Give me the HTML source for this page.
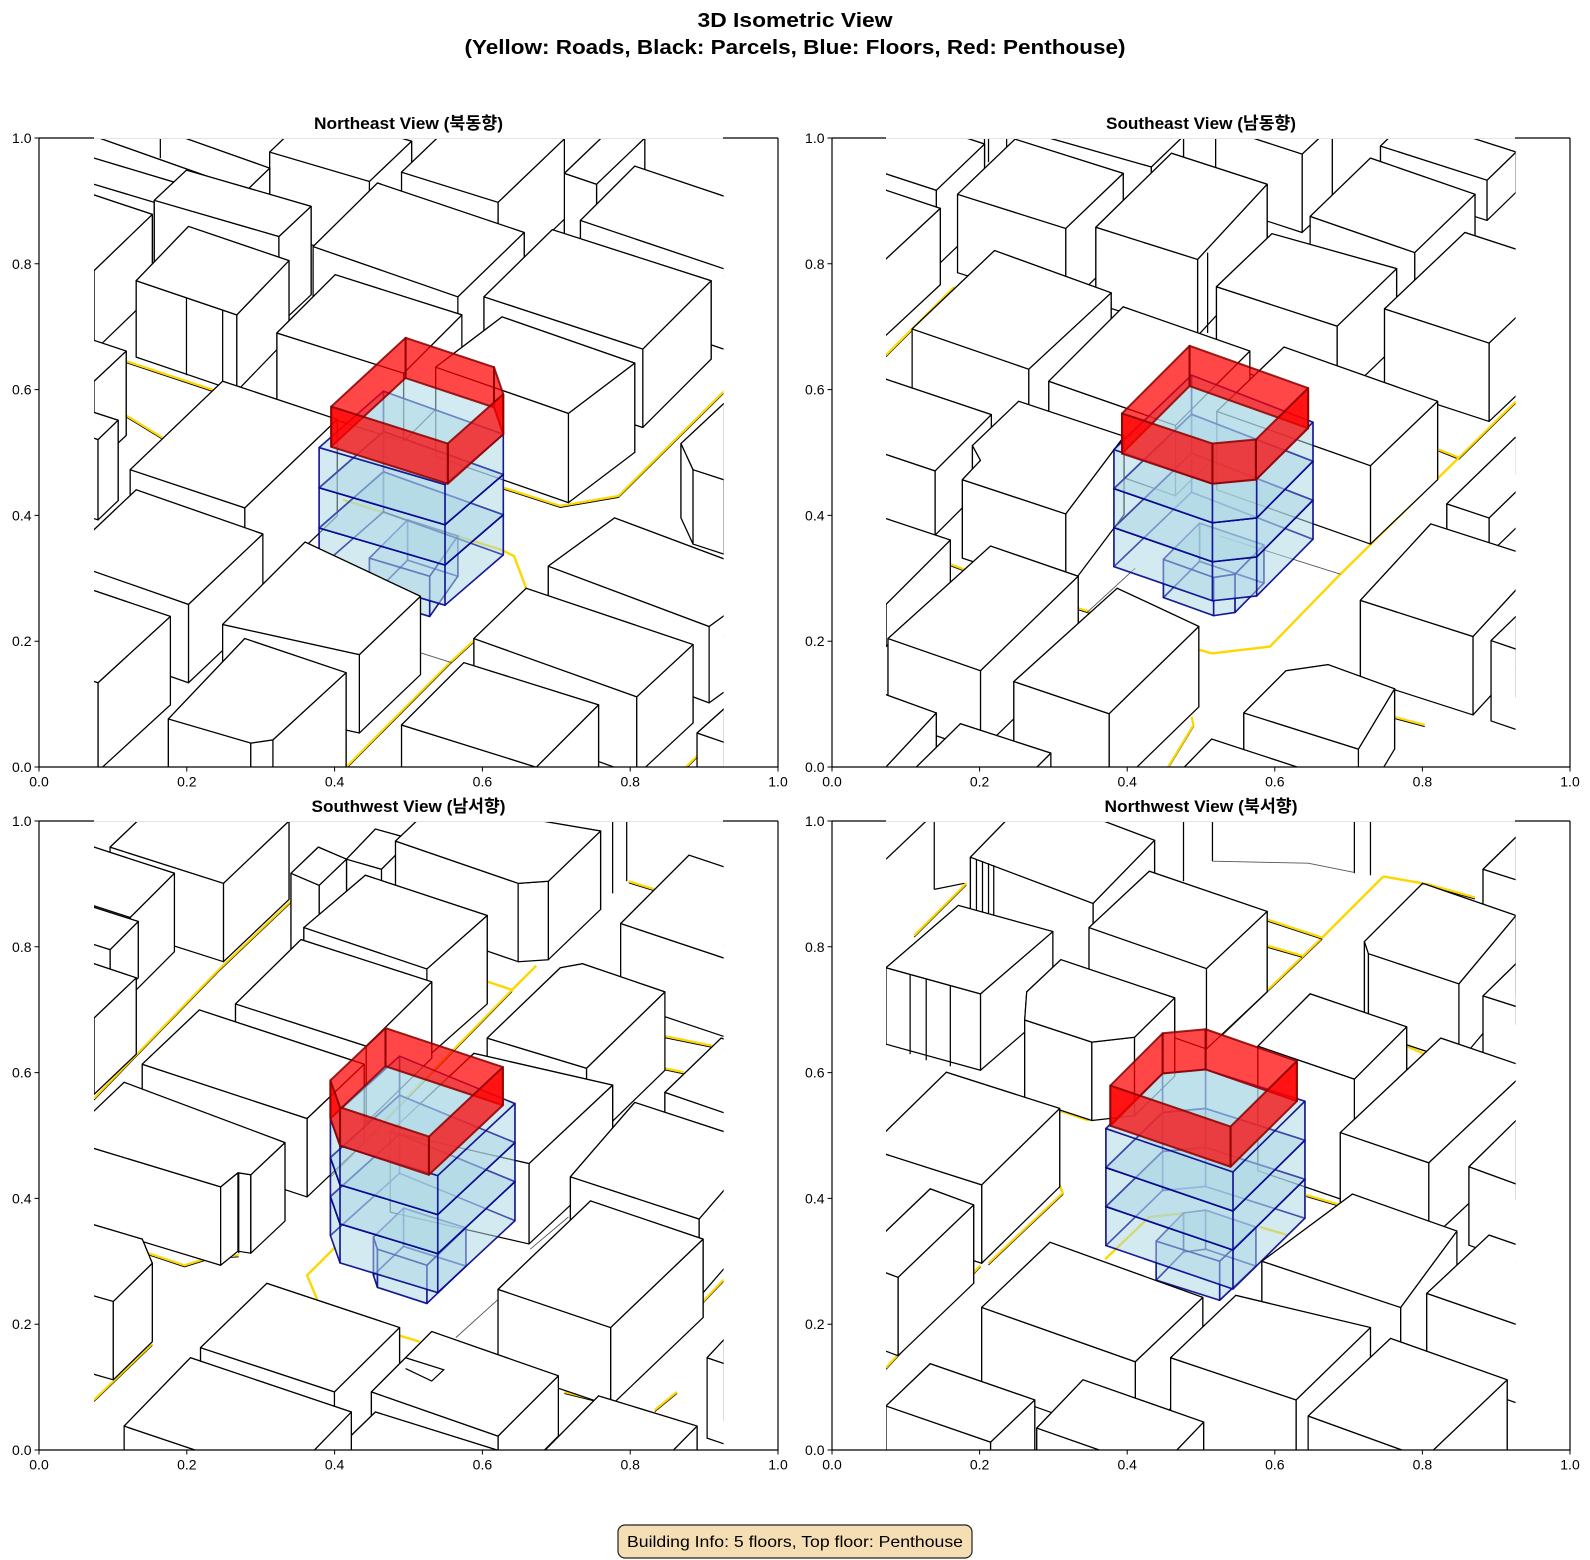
<!DOCTYPE html>
<html><head><meta charset="utf-8">
<style>
html,body{margin:0;padding:0;background:#fff;}
svg{display:block;}
text{font-family:"Liberation Sans","Noto Sans CJK KR",sans-serif;fill:#000;}
</style></head>
<body>
<svg id="fig" width="1590" height="1560" viewBox="0 0 1590 1560" xmlns="http://www.w3.org/2000/svg">
<rect width="1590" height="1560" fill="#fff"/>
<defs><clipPath id="cp"><rect x="0" y="0" width="1566" height="1565"/></clipPath></defs>

<g transform="translate(94,138) scale(0.40204)"><g id="p0" clip-path="url(#cp)"></g></g>
<g transform="translate(886,138) scale(0.40204)"><g id="p1" clip-path="url(#cp)"></g></g>
<g transform="translate(94,821) scale(0.40204)"><g id="p2" clip-path="url(#cp)"></g></g>
<g transform="translate(886,821) scale(0.40204)"><g id="p3" clip-path="url(#cp)"></g></g>

<!-- spines -->
<g stroke="#000" stroke-width="1.2" fill="none">
<path d="M39,138V767H778V138M39,138H94M723,138H778"/>
<path d="M832,138V767H1570V138M832,138H886M1515,138H1570"/>
<path d="M39,821V1450H778V821M39,821H94M723,821H778"/>
<path d="M832,821V1450H1570V821M832,821H886M1515,821H1570"/>
</g>
<g stroke="#e4e4e4" stroke-width="1" fill="none">
<path d="M94,138.5H723M886,138.5H1515M94,821.5H723M886,821.5H1515"/>
</g>
<!-- ticks -->
<g stroke="#000" stroke-width="1" fill="none">
<path d="M39,767v4.5M186.8,767v4.5M334.6,767v4.5M482.4,767v4.5M630.2,767v4.5M778,767v4.5M39,767h-4.5M39,641.2h-4.5M39,515.4h-4.5M39,389.6h-4.5M39,263.8h-4.5M39,138h-4.5"/>
<path d="M832,767v4.5M979.6,767v4.5M1127.2,767v4.5M1274.8,767v4.5M1422.4,767v4.5M1570,767v4.5M832,767h-4.5M832,641.2h-4.5M832,515.4h-4.5M832,389.6h-4.5M832,263.8h-4.5M832,138h-4.5"/>
<path d="M39,1450v4.5M186.8,1450v4.5M334.6,1450v4.5M482.4,1450v4.5M630.2,1450v4.5M778,1450v4.5M39,1450h-4.5M39,1324.2h-4.5M39,1198.4h-4.5M39,1072.6h-4.5M39,946.8h-4.5M39,821h-4.5"/>
<path d="M832,1450v4.5M979.6,1450v4.5M1127.2,1450v4.5M1274.8,1450v4.5M1422.4,1450v4.5M1570,1450v4.5M832,1450h-4.5M832,1324.2h-4.5M832,1198.4h-4.5M832,1072.6h-4.5M832,946.8h-4.5M832,821h-4.5"/>
</g>

<g font-size="14" text-anchor="middle">
<text x="39" y="786.5">0.0</text><text x="186.8" y="786.5">0.2</text><text x="334.6" y="786.5">0.4</text><text x="482.4" y="786.5">0.6</text><text x="630.2" y="786.5">0.8</text><text x="778" y="786.5">1.0</text>
<text x="832" y="786.5">0.0</text><text x="979.6" y="786.5">0.2</text><text x="1127.2" y="786.5">0.4</text><text x="1274.8" y="786.5">0.6</text><text x="1422.4" y="786.5">0.8</text><text x="1570" y="786.5">1.0</text>
<text x="39" y="1469.5">0.0</text><text x="186.8" y="1469.5">0.2</text><text x="334.6" y="1469.5">0.4</text><text x="482.4" y="1469.5">0.6</text><text x="630.2" y="1469.5">0.8</text><text x="778" y="1469.5">1.0</text>
<text x="832" y="1469.5">0.0</text><text x="979.6" y="1469.5">0.2</text><text x="1127.2" y="1469.5">0.4</text><text x="1274.8" y="1469.5">0.6</text><text x="1422.4" y="1469.5">0.8</text><text x="1570" y="1469.5">1.0</text>
</g>
<g font-size="14" text-anchor="end">
<text x="31.5" y="772">0.0</text><text x="31.5" y="646.2">0.2</text><text x="31.5" y="520.4">0.4</text><text x="31.5" y="394.6">0.6</text><text x="31.5" y="268.8">0.8</text><text x="31.5" y="143">1.0</text>
<text x="824.5" y="772">0.0</text><text x="824.5" y="646.2">0.2</text><text x="824.5" y="520.4">0.4</text><text x="824.5" y="394.6">0.6</text><text x="824.5" y="268.8">0.8</text><text x="824.5" y="143">1.0</text>
<text x="31.5" y="1455">0.0</text><text x="31.5" y="1329.2">0.2</text><text x="31.5" y="1203.4">0.4</text><text x="31.5" y="1077.6">0.6</text><text x="31.5" y="951.8">0.8</text><text x="31.5" y="826">1.0</text>
<text x="824.5" y="1455">0.0</text><text x="824.5" y="1329.2">0.2</text><text x="824.5" y="1203.4">0.4</text><text x="824.5" y="1077.6">0.6</text><text x="824.5" y="951.8">0.8</text><text x="824.5" y="826">1.0</text>
</g>

<!-- titles -->
<text x="795" y="27" font-size="20" font-weight="bold" text-anchor="middle" textLength="195" lengthAdjust="spacingAndGlyphs">3D Isometric View</text>
<text x="795" y="54" font-size="20" font-weight="bold" text-anchor="middle" textLength="661" lengthAdjust="spacingAndGlyphs">(Yellow: Roads, Black: Parcels, Blue: Floors, Red: Penthouse)</text>

<text x="408.5" y="129" font-size="17" font-weight="bold" text-anchor="middle" textLength="189" lengthAdjust="spacingAndGlyphs">Northeast View (북동향)</text>
<text x="1201" y="129" font-size="17" font-weight="bold" text-anchor="middle" textLength="190" lengthAdjust="spacingAndGlyphs">Southeast View (남동향)</text>
<text x="408.5" y="812" font-size="17" font-weight="bold" text-anchor="middle" textLength="194" lengthAdjust="spacingAndGlyphs">Southwest View (남서향)</text>
<text x="1201" y="812" font-size="17" font-weight="bold" text-anchor="middle" textLength="193" lengthAdjust="spacingAndGlyphs">Northwest View (북서향)</text>

<!-- footer -->
<rect x="618" y="1525" width="354" height="33" rx="7" ry="7" fill="#f5deb3" stroke="#222" stroke-width="1.2"/>
<text x="795" y="1547" font-size="16" text-anchor="middle" textLength="336" lengthAdjust="spacingAndGlyphs">Building Info: 5 floors, Top floor: Penthouse</text>
</svg>

<script>
(function(){
const NS='http://www.w3.org/2000/svg';
const VE='non-scaling-stroke';
function el(p,t,a){const e=document.createElementNS(NS,t);for(const k in a)e.setAttribute(k,a[k]);p.appendChild(e);return e;}
function ps(a){return a.map(p=>p[0].toFixed(1)+','+p[1].toFixed(1)).join(' ');}
function b3(L,N,R,h,x){return {p:[L,[L[0]+R[0]-N[0],L[1]+R[1]-N[1]],R,N],h:h,x:x};}
function P(p,h,x){return {p:p,h:h,x:x};}
const WS={fill:'#fff',stroke:'#000','stroke-width':1.25,'stroke-linejoin':'round','vector-effect':VE};
const BS={fill:'#add8e6','fill-opacity':0.3,stroke:'#00008b','stroke-opacity':0.7,'stroke-width':1.6,'stroke-linejoin':'round','vector-effect':VE};
const RS={fill:'#ff0000','fill-opacity':0.72,stroke:'#8b0000','stroke-opacity':0.85,'stroke-width':2,'stroke-linejoin':'round','vector-effect':VE};
function walls(g,pts,h,st){const n=pts.length,w=[];for(let i=0;i<n;i++){const a=pts[i],b=pts[(i+1)%n];w.push({q:[a,b,[b[0],b[1]+h],[a[0],a[1]+h]],k:(a[1]+b[1])/2});}w.sort((u,v)=>u.k-v.k);for(const o of w)el(g,'polygon',Object.assign({points:ps(o.q)},st));}
function prism(g,pts,h,st,top,bottom){if(bottom)el(g,'polygon',Object.assign({points:ps(pts.map(p=>[p[0],p[1]+h]))},st));walls(g,pts,h,st);if(top)el(g,'polygon',Object.assign({points:ps(pts)},st));}
function maxY(p){return Math.max.apply(null,p.map(q=>q[1]));}
function panel(id,d){
 const g=document.getElementById(id);
 for(const r of d.roads){const t=r[0],pts=ps(r[1]);
  if(t==='yb'){el(g,'polyline',{points:pts,fill:'none',stroke:'#000','stroke-width':1,transform:'translate(0,4)','vector-effect':VE});el(g,'polyline',{points:pts,fill:'none',stroke:'#ffd700','stroke-width':2.2,'vector-effect':VE});}
  else if(t==='y')el(g,'polyline',{points:pts,fill:'none',stroke:'#ffd700','stroke-width':2.4,'vector-effect':VE});
  else if(t==='g')el(g,'polyline',{points:pts,fill:'none',stroke:'#555','stroke-width':0.9,'vector-effect':VE});
  else el(g,'polyline',{points:pts,fill:'none',stroke:'#000','stroke-width':1.25,'vector-effect':VE});
 }
 const items=d.boxes.map(b=>({t:'w',b:b,k:maxY(b.p)+b.h}));
 const s=d.sp;const bk=maxY(s.blue)+s.n*s.bh;
 items.push({t:'a',k:bk-0.5},{t:'b',k:bk},{t:'r',k:bk+0.5});
 items.sort((u,v)=>u.k-v.k);
 for(const it of items){
  if(it.t==='w'){prism(g,it.b.p,it.b.h,WS,true,false);if(it.b.x)for(const l of it.b.x)el(g,'polyline',{points:ps(l),fill:'none',stroke:'#000','stroke-width':1.25,'vector-effect':VE});}
  else if(it.t==='a'){prism(g,s.annex,s.ah,BS,true,true);}
  else if(it.t==='b'){for(let i=s.n-1;i>=0;i--)prism(g,s.blue.map(p=>[p[0],p[1]+i*s.bh]),s.bh,BS,true,true);}
  else{
   el(g,'polygon',{points:ps(s.red.map(p=>[p[0],p[1]+s.rh])),fill:'#add8e6','fill-opacity':0.55,stroke:'none'});
   walls(g,s.red,s.rh,RS);
  }
 }
}

/* Northeast */
panel('p0',{
roads:[['yb',[[80,555],[300,628]]],['yb',[[80,690],[170,745]]],['yb',[[1020,870],[1160,915],[1305,890],[1567,630]]],['y',[[1015,1025],[1045,1040],[1075,1120]]],['y',[[620,900],[1015,1025]]],['yb',[[945,1250],[885,1305],[625,1567]]],['yb',[[1470,1567],[1567,1470]]],['g',[[810,1280],[890,1305]]]],
boxes:[
b3([-100,-40],[380,130],[437,75],200,[[[165,0],[165,50]]]),
b3([437,35],[685,108],[790,8],200),
b3([765,85],[1005,160],[1170,2],200),
b3([1170,88],[1250,115],[1370,0],150),
b3([-250,40],[150,160],[200,110],210),
b3([150,155],[460,245],[540,170],220),
P([[105,355],[235,220],[485,305],[355,440]],190,[[[230,397],[230,590]],[[320,428],[320,605]]]),
b3([-300,230],[0,330],[145,190],200),
b3([-300,505],[0,605],[80,530],210),
b3([-300,650],[10,750],[60,702],200),
P([[545,270],[705,112],[1070,235],[905,395]],250),
b3([1210,205],[1700,370],[1835,235],200),
P([[970,395],[1140,228],[1535,355],[1365,525]],195),
P([[740,500],[770,470],[855,492],[825,522]],60),
P([[455,485],[600,340],[915,440],[770,585]],170),
P([[850,570],[1015,445],[1345,560],[1180,685]],222),
P([[1460,760],[1567,660],[1800,740],[1567,850],[1490,825]],185),
P([[90,825],[320,605],[605,700],[375,920]],240),
P([[-80,1050],[105,875],[420,985],[235,1160]],195),
b3([-300,1250],[10,1355],[190,1190],220),
P([[320,1210],[525,1005],[812,1140],[660,1285]],195),
P([[185,1445],[375,1245],[627,1330],[445,1497],[390,1505]],300),
P([[1130,1065],[1295,945],[1695,1095],[1530,1215]],190),
P([[945,1245],[1075,1120],[1490,1260],[1350,1390]],195),
P([[765,1460],[920,1305],[1255,1410],[1100,1565]],200),
P([[1500,1480],[1567,1420],[1800,1500],[1733,1560]],200)
],
sp:{red:[[590,668],[775,497],[995,570],[1018,637],[880,760]],rh:100,
blue:[[560,770],[720,630],[1018,737],[873,862]],bh:100,n:3,
annex:[[685,1045],[780,950],[905,990],[835,1090]],ah:100}
});

/* Southeast */
panel('p1',{
roads:[['yb',[[0,540],[170,370]]],['yb',[[1375,775],[1425,795],[1567,655]]],['y',[[1425,795],[1130,1085],[955,1265],[810,1282],[780,1273]]],['yb',[[760,1440],[765,1460],[700,1567]]],['yb',[[1265,1440],[1340,1460]]],['yb',[[160,1060],[200,1075]]],['yb',[[480,1170],[512,1180]]],['g',[[1130,1085],[830,990]]],['g',[[500,1180],[620,1070]]],['k',[[245,0],[245,60]]],['k',[[255,0],[255,60]]]],
boxes:[
b3([-150,40],[125,130],[245,15],190),
b3([-145,265],[-10,310],[135,175],190),
P([[178,140],[321,3],[590,88],[447,225]],195),
b3([300,-30],[660,72],[740,-5],200),
P([[522,222],[710,38],[948,115],[775,302]],190,[[[800,285],[800,485]]]),
b3([820,-30],[1035,40],[1110,-30],195),
b3([1230,20],[1495,105],[1567,35],100),
P([[1055,195],[1205,50],[1465,140],[1315,285]],185),
P([[822,370],[960,238],[1270,325],[1122,468]],190),
b3([1240,425],[1500,510],[1700,320],195),
P([[65,475],[270,280],[560,385],[355,575]],190),
b3([-140,740],[122,828],[262,688],160),
P([[405,605],[590,420],[905,530],[720,715]],175),
P([[215,765],[330,655],[592,742],[447,935],[190,850],[235,802]],195),
P([[823,680],[990,520],[1372,655],[1205,815]],195),
b3([-300,1060],[0,1160],[160,1000],105),
P([[5,1245],[260,1015],[478,1090],[235,1325]],200),
P([[318,1352],[575,1120],[778,1215],[555,1432]],200),
P([[70,1570],[185,1457],[410,1530],[295,1645]],100),
b3([-300,1470],[-10,1575],[125,1430],150),
P([[890,1430],[995,1325],[1100,1310],[1265,1370],[1175,1520]],150),
P([[1180,1150],[1355,960],[1635,1050],[1460,1240]],195),
P([[1505,1250],[1567,1190],[1800,1270],[1740,1330]],200),
P([[1395,910],[1565,745],[1670,780],[1500,945]],90),
P([[740,1567],[810,1495],[1100,1590],[1030,1660]],100)
],
sp:{red:[[587,685],[755,517],[1050,622],[920,750],[812,760]],rh:100,
blue:[[567,775],[760,590],[1062,707],[922,848],[812,860]],bh:97,n:3,
annex:[[690,1048],[780,958],[940,1012],[868,1085],[815,1093]],ah:95}
});

/* Southwest */
panel('p2',{
roads:[['yb',[[0,690],[310,370],[520,170],[610,195]]],['yb',[[0,1440],[145,1300]]],['yb',[[1330,150],[1395,170]]],['yb',[[1420,535],[1567,565]]],['yb',[[1420,615],[1467,625]]],['y',[[980,400],[1040,420],[1100,360]]],['yb',[[1040,420],[590,880]]],['yb',[[135,1075],[225,1105],[290,1085],[360,1080]]],['y',[[600,1060],[530,1130],[555,1190]]],['y',[[760,1280],[810,1295]]],['yb',[[1510,1200],[1567,1140]]],['yb',[[1395,1465],[1450,1420]]],['yb',[[1170,1420],[1250,1440]]],['g',[[900,1285],[1005,1190]]],['g',[[1085,1065],[1180,985]]],['k',[[1290,0],[1290,180]]],['k',[[1325,0],[1325,150]]]],
boxes:[
P([[40,65],[203,-90],[485,0],[322,155]],195),
b3([490,130],[560,160],[628,95],200),
P([[628,95],[700,20],[790,45],[715,120]],200),
P([[750,50],[850,-45],[1260,25],[1130,150],[1055,155]],195),
b3([1310,255],[1600,352],[1770,182],195),
P([[522,265],[675,135],[978,235],[828,368]],220),
P([[352,455],[515,295],[840,400],[677,560]],190),
P([[120,605],[262,470],[672,605],[530,740]],195),
P([[-74,792],[75,650],[475,800],[390,880],[358,875],[315,910]],195,[[[360,876],[360,1075]],[[390,880],[390,1075]]]),
P([[-110,175],[0,65],[200,130],[90,240]],195),
P([[-100,275],[-30,205],[110,250],[40,320]],140),
P([[-105,455],[0,355],[105,390],[0,490]],190),
P([[-300,1095],[-150,960],[120,1040],[145,1100],[48,1195]],195),
P([[978,540],[1160,365],[1215,355],[1420,425],[1225,615]],195),
P([[737,773],[945,578],[1290,657],[1082,852]],200),
P([[1185,885],[1345,700],[1665,805],[1505,990]],195),
b3([1420,675],[1710,775],[1850,640],195),
P([[1005,1165],[1235,945],[1515,1040],[1285,1260]],195),
P([[265,1310],[430,1150],[760,1260],[598,1420]],200),
P([[75,1505],[240,1335],[640,1470],[475,1640]],200),
P([[690,1420],[840,1270],[1155,1380],[1005,1530]],150,[[[775,1335],[870,1365],[840,1393],[775,1362]]]),
P([[1120,1567],[1255,1430],[1500,1505],[1365,1642]],100),
P([[1525,1335],[1567,1290],[1800,1370],[1760,1415]],200),
P([[600,1567],[700,1470],[1010,1567],[910,1665]],100)
],
sp:{red:[[588,645],[725,515],[1017,612],[833,785],[612,712]],rh:95,
blue:[[588,740],[760,585],[1047,703],[855,882],[612,808]],bh:97,n:3,
annex:[[695,1035],[770,963],[925,1012],[828,1105],[705,1065]],ah:95}
});

/* Northwest */
panel('p3',{
roads:[['yb',[[0,1360],[235,1105]]],['yb',[[432,905],[440,925],[255,1100]]],['y',[[1237,138],[1085,290]]],['yb',[[1085,290],[835,530]]],['y',[[1237,138],[1335,155]]],['yb',[[1340,155],[1465,190]]],['yb',[[948,245],[1085,290]]],['yb',[[948,310],[1035,335]]],['yb',[[1045,930],[1130,955]]],['y',[[1295,560],[1340,580]]],['yb',[[200,155],[70,285]]],['y',[[430,720],[505,745]]],['y',[[545,1090],[655,985],[745,975]]],['y',[[930,1010],[1000,1030]]],['k',[[812,0],[812,100]]],['k',[[1165,0],[1165,130]]],['k',[[1205,0],[1205,135]]],['k',[[740,0],[740,150]]],['k',[[120,0],[120,170]]],['g',[[812,100],[1050,105],[1165,128]]],['k',[[0,95],[100,0]]],['k',[[120,170],[195,155]]]],
boxes:[
P([[210,90],[363,-67],[668,48],[515,205]],200,[[[225,95],[225,240]],[[240,100],[240,240]],[[255,105],[255,245]],[[268,110],[268,245]]]),
P([[0,365],[180,210],[415,275],[235,430]],190,[[[60,382],[60,580]],[[100,393],[100,595]],[[160,410],[160,610]]]),
P([[505,265],[655,125],[948,225],[797,367]],200),
P([[350,425],[435,345],[718,440],[618,538],[512,550],[345,495]],195),
P([[-44,815],[150,625],[432,715],[238,905]],195),
P([[-78,1095],[110,915],[218,955],[30,1135]],195),
P([[0,1455],[110,1350],[370,1440],[260,1545]],200),
P([[238,1210],[408,1048],[788,1185],[620,1345]],200),
P([[708,1335],[870,1180],[1205,1260],[1020,1440]],220),
P([[375,1510],[490,1390],[790,1495],[675,1615]],100),
P([[1050,1480],[1255,1287],[1545,1390],[1340,1585]],200),
P([[1130,775],[1380,540],[1600,615],[1350,850]],195),
P([[1190,300],[1335,155],[1567,235],[1425,405],[1200,330]],195),
P([[1485,120],[1567,40],[1800,115],[1720,195]],100),
P([[925,560],[1055,430],[1295,512],[1165,642]],310),
P([[935,1095],[1160,928],[1420,1020],[1280,1210]],200),
P([[1345,1175],[1500,1030],[1760,1120],[1605,1265]],195),
P([[1450,860],[1567,745],[1800,830],[1683,945]],195),
P([[1485,435],[1567,355],[1800,430],[1720,510]],150)
],
sp:{red:[[558,658],[688,528],[795,518],[1022,597],[857,760]],rh:100,
blue:[[547,765],[688,628],[795,618],[1042,697],[863,873]],bh:97,n:3,
annex:[[672,1045],[740,975],[795,968],[920,1010],[830,1095]],ah:97}
});
})();
</script>
</body></html>
